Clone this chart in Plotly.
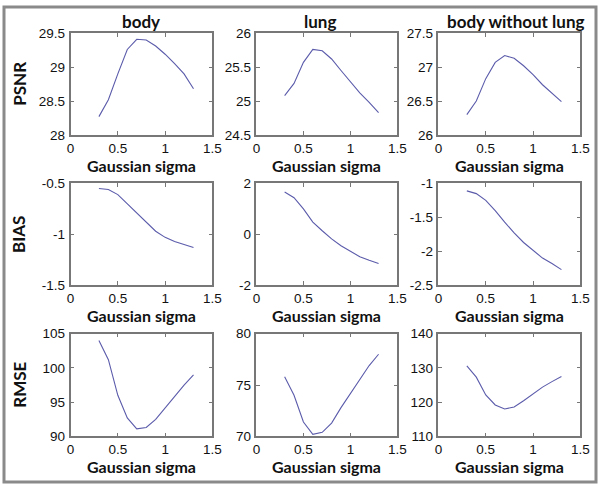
import plotly.graph_objects as go

sigma = [0.3, 0.4, 0.5, 0.6, 0.7, 0.8, 0.9, 1.0, 1.1, 1.2, 1.3]

psnr_body = [28.27, 28.52, 28.90, 29.26, 29.41, 29.40, 29.31, 29.19, 29.05, 28.90, 28.68]
psnr_lung = [25.08, 25.26, 25.57, 25.76, 25.74, 25.62, 25.45, 25.29, 25.12, 24.98, 24.83]
psnr_wo = [26.30, 26.50, 26.83, 27.07, 27.17, 27.13, 27.02, 26.89, 26.74, 26.62, 26.49]

bias_body = [-0.55, -0.56, -0.61, -0.70, -0.80, -0.89, -0.97, -1.03, -1.07, -1.10, -1.13]
bias_lung = [1.66, 1.44, 1.00, 0.48, 0.14, -0.18, -0.45, -0.66, -0.88, -1.02, -1.15]
bias_wo = [-1.11, -1.15, -1.25, -1.40, -1.57, -1.73, -1.87, -1.99, -2.10, -2.18, -2.27]

rmse_body = [104.0, 101.2, 96.0, 92.7, 91.1, 91.3, 92.5, 94.2, 95.8, 97.5, 99.0]
rmse_lung = [75.8, 74.0, 71.4, 70.2, 70.4, 71.3, 72.8, 74.2, 75.6, 76.9, 78.0]
rmse_wo = [130.6, 127.3, 122.1, 119.2, 118.0, 118.6, 120.4, 122.5, 124.4, 126.0, 127.5]

col_titles = ["body", "lung", "body without lung"]
row_titles = ["PSNR", "BIAS", "RMSE"]
x_title = "Gaussian sigma"

x_ticks = [0, 0.5, 1, 1.5]
x_ticktext = ["0", "0.5", "1", "1.5"]

y_ticks = [
    [28, 28.5, 29, 29.5], [24.5, 25, 25.5, 26], [26, 26.5, 27, 27.5],
    [-1.5, -1, -0.5], [-2, 0, 2], [-2.5, -2, -1.5, -1],
    [90, 95, 100, 105], [70, 75, 80], [110, 120, 130, 140],
]
y_ticktext = [
    ["28", "28.5", "29", "29.5"], ["24.5", "25", "25.5", "26"], ["26", "26.5", "27", "27.5"],
    ["-1.5", "-1", "-0.5"], ["-2", "0", "2"], ["-2.5", "-2", "-1.5", "-1"],
    ["90", "95", "100", "105"], ["70", "75", "80"], ["110", "120", "130", "140"],
]

series = [psnr_body, psnr_lung, psnr_wo, bias_body, bias_lung, bias_wo, rmse_body, rmse_lung, rmse_wo]

W, H = 605, 490
col_px = [(68, 213), (258, 402), (444, 589)]
row_px = [(27, 132), (182, 287), (337, 443)]
xlab_y = [164, 318, 474]

fig = go.Figure()
layout = dict(
    width=W, height=H, margin=dict(l=0, r=0, t=0, b=0),
    paper_bgcolor="white", plot_bgcolor="white", showlegend=False,
)
axis_color = "#777777"
annotations = []
for r in range(3):
    for c in range(3):
        i = r * 3 + c
        n = "" if i == 0 else str(i + 1)
        fig.add_trace(go.Scatter(x=sigma, y=series[i], mode="lines",
                                 line=dict(color="#5b5bab", width=1.1),
                                 xaxis="x" + n, yaxis="y" + n, hoverinfo="skip"))
        yt = y_ticks[i]
        common = dict(showline=True, linecolor=axis_color, linewidth=1.5, mirror="ticks",
                      ticks="inside", ticklen=4, tickcolor=axis_color, tickwidth=1,
                      showgrid=False, zeroline=False,
                      tickfont=dict(family="Liberation Sans", size=13.5, color="#111111"))
        layout["xaxis" + n] = dict(common, domain=[col_px[c][0] / W, col_px[c][1] / W],
                                   range=[0, 1.5], tickvals=x_ticks, ticktext=x_ticktext,
                                   anchor="y" + n, ticklabelstandoff=0)
        layout["yaxis" + n] = dict(common, domain=[1 - row_px[r][1] / H, 1 - row_px[r][0] / H],
                                   range=[yt[0], yt[-1]], tickvals=yt, ticktext=y_ticktext[i],
                                   anchor="x" + n, ticklabelstandoff=1)
        annotations.append(dict(text=x_title, x=(col_px[c][0] + col_px[c][1]) / 2 / W,
                                y=1 - xlab_y[r] / H, xref="paper", yref="paper",
                                showarrow=False, xanchor="center", yanchor="middle",
                                font=dict(family="Lato", size=16, color="#111111", weight="bold")))
title_x = [140, 323, 523]
for c in range(3):
    annotations.append(dict(text=col_titles[c], x=title_x[c] / W, y=1 - 15 / H,
                            xref="paper", yref="paper", showarrow=False,
                            xanchor="center", yanchor="middle",
                            font=dict(family="Lato", size=17, color="#111111", weight="bold")))
for r in range(3):
    annotations.append(dict(text=row_titles[r], x=15 / W,
                            y=1 - (row_px[r][0] + row_px[r][1]) / 2 / H,
                            xref="paper", yref="paper", showarrow=False, textangle=-90,
                            xanchor="center", yanchor="middle",
                            font=dict(family="Lato", size=17, color="#111111", weight="bold")))
layout["annotations"] = annotations
layout["shapes"] = [dict(type="rect", xref="paper", yref="paper", x0=0, y0=0, x1=1, y1=1,
                         line=dict(color="#8a8a8a", width=3))]
fig.update_layout(**layout)
fig.write_html("out.html", config={"displayModeBar": False},
               post_script="document.body.style.margin='0';document.body.style.overflow='hidden';")
